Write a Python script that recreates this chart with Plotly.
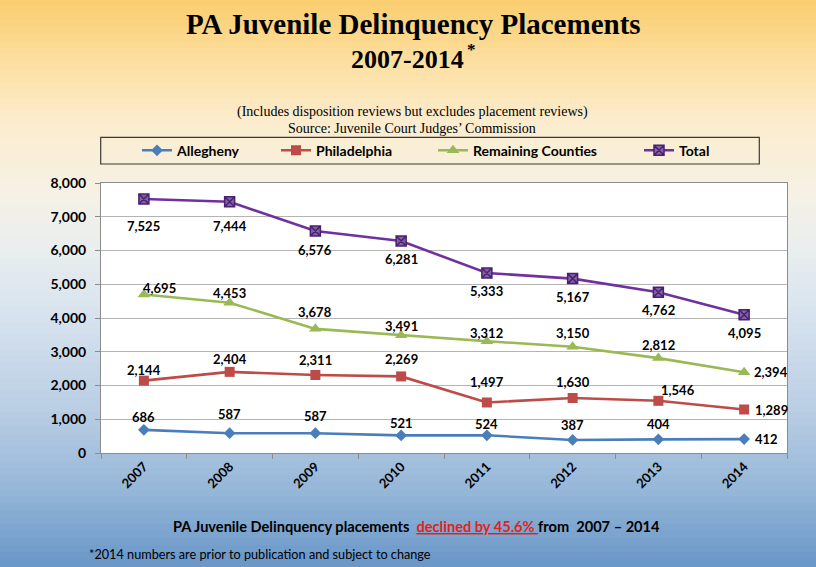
import plotly.graph_objects as go

# ---------------- data ----------------
years = ["2007", "2008", "2009", "2010", "2011", "2012", "2013", "2014"]
allegheny = [686, 587, 587, 521, 524, 387, 404, 412]
philadelphia = [2144, 2404, 2311, 2269, 1497, 1630, 1546, 1289]
remaining = [4695, 4453, 3678, 3491, 3312, 3150, 2812, 2394]
total = [7525, 7444, 6576, 6281, 5333, 5167, 4762, 4095]
series_names = ["Allegheny", "Philadelphia", "Remaining Counties", "Total"]
y_tick_values = [0, 1000, 2000, 3000, 4000, 5000, 6000, 7000, 8000]

title_line1 = "PA Juvenile Delinquency Placements"
title_line2 = "2007-2014"
subtitle1 = "(Includes disposition reviews but excludes placement reviews)"
subtitle2 = "Source: Juvenile Court Judges\u2019 Commission"
bottom_a = "PA Juvenile Delinquency placements"
bottom_b = "declined by 45.6%"
bottom_c = "from\u00a0 2007 \u2013 2014"
footnote = "*2014 numbers are prior to publication and subject to change"

# ---------------- geometry / style ----------------
W, H = 816, 567
L, R, T, B = 101, 787, 183, 453
PW, PH = R - L, B - T


def X(px):
    return (px - L) / PW


def Y(py):
    return (B - py) / PH


SANS = "Lato"
SERIF = "Liberation Serif"

colors = ["#4A7EBB", "#BE4B48", "#98B954", "#7030A0"]
symbols = ["diamond", "square", "triangle-up", "square-x"]
msizes = [9, 10, 11, 10]
# data-label offsets in pixels (dx right, dy down) for each point
label_dx = [
    [0, 0, 0, 0, 0, 0, 0, 22],
    [0, 0, 0, 0, 0, 0, 20, 27],
    [16, 0, 0, 0, 0, 0, 0, 27],
    [0, 0, 0, 0, 0, 0, 0, 0],
]
label_dy = [
    [-13, -19, -17, -12, -11, -15, -15, 0],
    [-11, -13, -15, -17, -20, -16, -11, 0],
    [-7, -10, -17, -9, -8, -14, -13, 0],
    [27, 24, 19, 18, 18, 18, 18, 18],
]
legend_ids = ["legend", "legend2", "legend3", "legend4"]
legend_text_x = [177, 316, 473, 679]

values = [allegheny, philadelphia, remaining, total]

fig = go.Figure()
annotations = []
for i, (name, vals) in enumerate(zip(series_names, values)):
    mline = dict(width=0)
    mcolor = colors[i]
    if symbols[i] == "square-x":
        mcolor = "#8064A2"
        mline = dict(width=1.5, color="#4B1F73")
    fig.add_trace(go.Scatter(
        x=years, y=vals, name=name, mode="lines+markers",
        line=dict(color=colors[i], width=2.6),
        marker=dict(symbol=symbols[i], size=msizes[i], color=mcolor, line=mline),
        legend=legend_ids[i],
        cliponaxis=False,
    ))
    for j, v in enumerate(vals):
        annotations.append(dict(
            x=j, y=v, xref="x", yref="y", text=f"{v:,}", showarrow=False,
            xshift=label_dx[i][j], yshift=-label_dy[i][j],
            xanchor="center", yanchor="middle",
            font=dict(family=SANS, size=13, color="black", weight="bold"),
        ))

# ---------------- background gradient (thin bands) ----------------
stops = [
    (0, (251, 205, 110)),
    (60, (252, 222, 158)),
    (120, (252, 236, 204)),
    (190, (246, 241, 228)),
    (250, (234, 238, 238)),
    (320, (214, 226, 238)),
    (410, (186, 206, 228)),
    (490, (150, 183, 216)),
    (567, (104, 150, 200)),
]


def col_at(py):
    for (a0, c0), (a1, c1) in zip(stops[:-1], stops[1:]):
        if a0 <= py <= a1:
            t = (py - a0) / (a1 - a0)
            c = [int(round(p + (q - p) * t)) for p, q in zip(c0, c1)]
            return f"rgb({c[0]},{c[1]},{c[2]})"
    c = stops[-1][1]
    return f"rgb({c[0]},{c[1]},{c[2]})"


shapes = []
band = 7
for top in range(0, H, band):
    bot = min(top + band + 1, H + 2)
    shapes.append(dict(type="rect", xref="paper", yref="paper",
                       x0=X(-2), x1=X(W + 2), y0=Y(bot), y1=Y(top - (1 if top else 2)),
                       fillcolor=col_at(top + band / 2), line=dict(width=0), layer="below"))

shapes += [
    # plot area background
    dict(type="rect", xref="paper", yref="paper", x0=0, x1=1, y0=0, y1=1,
         fillcolor="white", line=dict(width=0), layer="below"),
    # legend box
    dict(type="rect", xref="paper", yref="paper",
         x0=X(100.7), x1=X(759.3), y0=Y(164), y1=Y(137.3),
         line=dict(color="#3A3A3A", width=1.2), fillcolor="rgba(0,0,0,0)", layer="above"),
]

# ---------------- text annotations ----------------
annotations += [
    dict(text=f"<b>{title_line1}</b>", x=X(413), y=Y(24), xref="paper", yref="paper",
         showarrow=False, font=dict(family=SERIF, size=29, color="black"), yanchor="middle"),
    dict(text=f"<b>{title_line2}</b>", x=X(407), y=Y(59), xref="paper", yref="paper",
         showarrow=False, font=dict(family=SERIF, size=26, color="black"), yanchor="middle"),
    dict(text="<b>*</b>", x=X(471), y=Y(49), xref="paper", yref="paper",
         showarrow=False, font=dict(family=SERIF, size=17, color="black"), yanchor="middle"),
    dict(text=subtitle1, x=X(412), y=Y(112), xref="paper", yref="paper",
         showarrow=False, font=dict(family=SERIF, size=14, color="black"), yanchor="middle"),
    dict(text=subtitle2, x=X(412), y=Y(128), xref="paper", yref="paper",
         showarrow=False, font=dict(family=SERIF, size=14, color="black"), yanchor="middle"),
    dict(text=(f"<b>{bottom_a}\u00a0 <span style='color:#E2231A'><u>{bottom_b}\u00a0</u></span>"
               f"{bottom_c}</b>"),
         x=X(416), y=Y(526), xref="paper", yref="paper",
         showarrow=False, font=dict(family=SANS, size=14.6, color="black"), yanchor="middle"),
    dict(text=footnote, x=X(87), y=Y(554), xref="paper", yref="paper", xanchor="left",
         showarrow=False, font=dict(family=SANS, size=12.7, color="black"), yanchor="middle"),
]

layout_legends = {}
for i, lid in enumerate(legend_ids):
    layout_legends[lid] = dict(
        orientation="h", xref="container", yref="container",
        x=(legend_text_x[i] - 40) / W, y=1 - 150.7 / H,
        xanchor="left", yanchor="middle",
        bgcolor="rgba(0,0,0,0)", borderwidth=0,
        font=dict(family=SANS, size=14, color="black", weight="bold"),
        itemwidth=30,
    )

fig.update_layout(
    width=W, height=H,
    margin=dict(l=L, r=W - R, t=T, b=H - B, pad=0, autoexpand=False),
    paper_bgcolor="#6C98C8",
    plot_bgcolor="rgba(0,0,0,0)",
    showlegend=True,
    shapes=shapes,
    annotations=annotations,
    **layout_legends,
)

fig.update_xaxes(
    type="category", categoryorder="array", categoryarray=years,
    range=[-0.5, len(years) - 0.5], automargin=False,
    tickson="boundaries", ticks="outside", ticklen=5, tickcolor="#8C8C8C",
    tickangle=-45, tickfont=dict(family=SANS, size=13, color="black", weight="bold"),
    showline=True, linecolor="#8C8C8C", linewidth=1, mirror=True,
    showgrid=False, zeroline=False,
)
fig.update_yaxes(
    range=[0, 8000], tickvals=y_tick_values, tickformat=",", automargin=False,
    ticks="outside", ticklen=5, tickcolor="#8C8C8C", ticklabelstandoff=6,
    tickfont=dict(family=SANS, size=14, color="black", weight="bold"),
    showline=True, linecolor="#8C8C8C", linewidth=1, mirror=True,
    showgrid=True, gridcolor="#B4B4B4", gridwidth=1.2, zeroline=False,
)

fig.write_html(
    "out.html",
    config={"displayModeBar": False},
    post_script="document.body.style.margin='0';document.body.style.overflow='hidden';",
)
